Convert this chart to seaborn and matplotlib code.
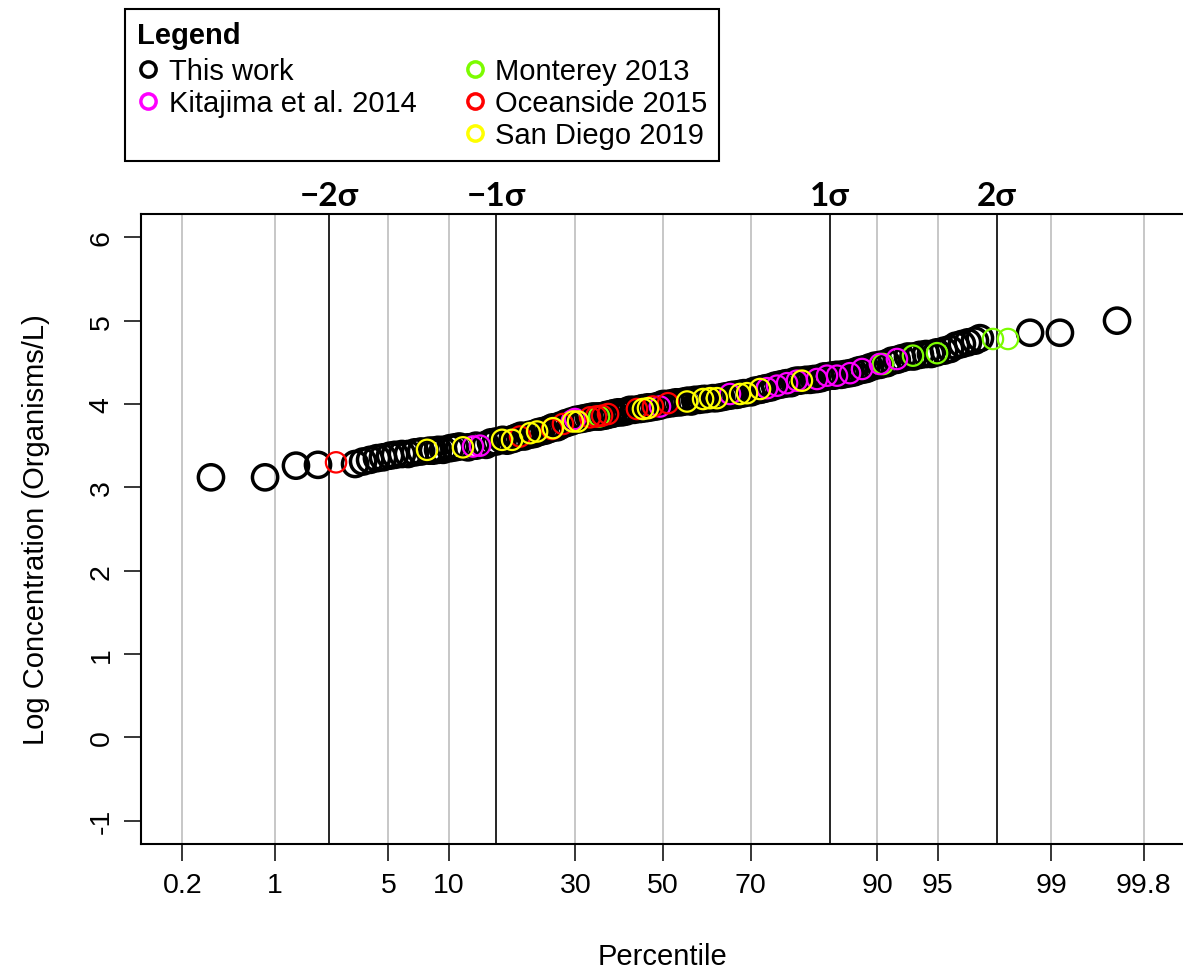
import numpy as np
import pandas as pd
import matplotlib
matplotlib.use("Agg")
import matplotlib.pyplot as plt
from matplotlib.lines import Line2D
from matplotlib.transforms import blended_transform_factory
import seaborn as sns
from statistics import NormalDist

# ---------------- data (normal score = theoretical quantile, log10 concentration) -------------
this_work_z = [-2.707, -2.383, -2.198, -2.066, -1.844, -1.796, -1.754, -1.713, -1.677, -1.635,
               -1.605, -1.563, -1.527, -1.485, -1.449, -1.400, -1.377, -1.347, -1.317, -1.275,
               -1.246, -1.220, -1.168, -1.120, -1.060, -1.030, -1.000, -0.960, -0.934, -0.900,
               -0.874, -0.850, -0.832, -0.800, -0.772, -0.750, -0.731, -0.707, -0.680, -0.660,
               -0.635, -0.617, -0.581, -0.550, -0.520, -0.491, -0.467, -0.443, -0.420, -0.395,
               -0.377, -0.350, -0.335, -0.310, -0.293, -0.269, -0.246, -0.222, -0.198, -0.174,
               -0.138, -0.120, -0.102, -0.090, -0.072, -0.042, -0.020, 0.000, 0.020, 0.054,
               0.078, 0.102, 0.126, 0.150, 0.168, 0.192, 0.216, 0.240, 0.257, 0.299,
               0.320, 0.347, 0.371, 0.400, 0.419, 0.440, 0.460, 0.485, 0.527, 0.551,
               0.580, 0.599, 0.620, 0.647, 0.671, 0.695, 0.719, 0.740, 0.766, 0.784,
               0.800, 0.820, 0.856, 0.880, 0.904, 0.920, 0.946, 0.964, 0.980, 1.006,
               1.024, 1.040, 1.066, 1.090, 1.120, 1.144, 1.168, 1.190, 1.216, 1.240,
               1.269, 1.300, 1.341, 1.371, 1.400, 1.431, 1.467, 1.500, 1.539, 1.575,
               1.605, 1.640, 1.683, 1.719, 1.754, 1.790, 1.826, 1.868, 1.898, 2.198,
               2.377, 2.719]
this_work_y = [3.12, 3.12, 3.26, 3.27, 3.28, 3.31, 3.33, 3.35, 3.36, 3.38,
               3.39, 3.40, 3.40, 3.42, 3.43, 3.44, 3.44, 3.45, 3.45, 3.47,
               3.48, 3.49, 3.48, 3.50, 3.51, 3.54, 3.55, 3.57, 3.56, 3.58,
               3.60, 3.62, 3.61, 3.63, 3.64, 3.66, 3.67, 3.68, 3.70, 3.72,
               3.72, 3.74, 3.77, 3.79, 3.81, 3.82, 3.83, 3.84, 3.85, 3.85,
               3.85, 3.86, 3.87, 3.88, 3.89, 3.90, 3.90, 3.91, 3.93, 3.93,
               3.94, 3.95, 3.95, 3.96, 3.96, 3.97, 3.98, 4.00, 4.00, 4.01,
               4.02, 4.02, 4.03, 4.04, 4.03, 4.05, 4.05, 4.06, 4.06, 4.07,
               4.07, 4.08, 4.09, 4.10, 4.11, 4.11, 4.12, 4.13, 4.14, 4.16,
               4.17, 4.18, 4.19, 4.20, 4.22, 4.23, 4.24, 4.25, 4.25, 4.27,
               4.28, 4.28, 4.29, 4.29, 4.30, 4.30, 4.31, 4.33, 4.33, 4.34,
               4.34, 4.35, 4.35, 4.36, 4.37, 4.38, 4.40, 4.41, 4.42, 4.44,
               4.46, 4.47, 4.49, 4.52, 4.53, 4.55, 4.57, 4.57, 4.59, 4.60,
               4.60, 4.62, 4.64, 4.66, 4.70, 4.72, 4.74, 4.76, 4.79, 4.855,
               4.855, 5.00]

kitajima_z = [-1.138, -1.096, -0.545, -0.527, -0.018, 0.401, 0.623, 0.683, 0.743, 0.802,
              0.922, 0.982, 1.042, 1.120, 1.192, 1.299, 1.401]
kitajima_y = [3.49, 3.50, 3.80, 3.82, 3.97, 4.12, 4.19, 4.22, 4.25, 4.28,
              4.30, 4.34, 4.34, 4.37, 4.42, 4.48, 4.54]

monterey_z = [-0.383, 1.317, 1.497, 1.641, 1.976, 2.066]
monterey_y = [3.85, 4.48, 4.58, 4.61, 4.78, 4.78]

oceanside_z = [-1.958, -0.856, -0.665, -0.599, -0.437, -0.401, -0.365, -0.329, -0.156, -0.060, 0.030]
oceanside_y = [3.30, 3.61, 3.70, 3.76, 3.84, 3.85, 3.86, 3.88, 3.94, 3.97, 4.01]

sandiego_z = [-1.413, -1.198, -0.964, -0.904, -0.796, -0.754, -0.659, -0.539, -0.509, -0.120,
              -0.090, 0.144, 0.240, 0.281, 0.323, 0.461, 0.503, 0.581, 0.832]
sandiego_y = [3.45, 3.48, 3.57, 3.57, 3.65, 3.67, 3.71, 3.79, 3.79, 3.94,
              3.95, 4.03, 4.06, 4.07, 4.07, 4.12, 4.13, 4.18, 4.28]

percentile_ticks = [0.2, 1, 5, 10, 30, 50, 70, 90, 95, 99, 99.8]
percentile_labels = ["0.2", "1", "5", "10", "30", "50", "70", "90", "95", "99", "99.8"]
sigma_levels = [-2, -1, 1, 2]
sigma_labels = ["\u22122\u03c3", "\u22121\u03c3", "1\u03c3", "2\u03c3"]
y_ticks = [-1, 0, 1, 2, 3, 4, 5, 6]

series_colors = {"This work": "black", "Kitajima et al. 2014": "#FF00FF",
                 "Monterey 2013": "#7CFC00", "Oceanside 2015": "#FF0000",
                 "San Diego 2019": "#FFFF00"}

frames = []
for name, zz, yy in [("This work", this_work_z, this_work_y),
                     ("Kitajima et al. 2014", kitajima_z, kitajima_y),
                     ("Monterey 2013", monterey_z, monterey_y),
                     ("Oceanside 2015", oceanside_z, oceanside_y),
                     ("San Diego 2019", sandiego_z, sandiego_y)]:
    frames.append(pd.DataFrame({"z": zz, "logc": yy, "source": name}))
df = pd.concat(frames, ignore_index=True)

# ---------------- style ----------------
sns.set_theme(style="white")
plt.rcParams["font.family"] = ["Liberation Sans", "DejaVu Sans"]
plt.rcParams["axes.edgecolor"] = "black"
plt.rcParams["text.color"] = "black"
plt.rcParams["axes.labelcolor"] = "black"
plt.rcParams["xtick.color"] = "black"
plt.rcParams["ytick.color"] = "black"

W, H = 1183, 979
fig = plt.figure(figsize=(W / 100, H / 100), dpi=100)
fig.patch.set_facecolor("white")
ax = fig.add_axes([141 / W, 1 - 845 / H, 1044 / W, 630 / H])

# reference lines
for p in percentile_ticks:
    ax.axvline(NormalDist().inv_cdf(p / 100), color="#BEBEBE", lw=1.2, zorder=1)
for s in sigma_levels:
    ax.axvline(s, color="black", lw=1.2, zorder=1.5)

# points: black first, coloured ones on top
draw_order = ["This work", "Monterey 2013", "Kitajima et al. 2014", "Oceanside 2015", "San Diego 2019"]
for name in draw_order:
    sub = df[df["source"] == name]
    big = name == "This work"
    sns.scatterplot(data=sub, x="z", y="logc", ax=ax, marker="o",
                    s=330 if big else 215, facecolor="none",
                    edgecolor=series_colors[name], linewidth=2.5 if big else 1.6,
                    legend=False, zorder=3)

ax.set_xlim(-3.126, 3.126)
ax.set_ylim(-1.28, 6.28)
ax.set_xticks([NormalDist().inv_cdf(p / 100) for p in percentile_ticks])
ax.set_xticklabels(percentile_labels)
ax.set_yticks(y_ticks)
ax.set_yticklabels([str(v) for v in y_ticks], rotation=90, va="center")
ax.tick_params(axis="both", direction="out", length=12, width=1.1, labelsize=20.5,
               bottom=True, left=True, top=False, right=False)
ax.tick_params(axis="x", pad=8)
ax.tick_params(axis="y", pad=7)
for sp in ax.spines.values():
    sp.set_linewidth(1.5)
    sp.set_color("black")

ax.set_xlabel("Percentile", fontsize=21, labelpad=32)
ax.set_ylabel("Log Concentration (Organisms/L)", fontsize=21, labelpad=28)

trans = blended_transform_factory(ax.transData, ax.transAxes)
for s, lab in zip(sigma_levels, sigma_labels):
    ax.text(s, 1.006, lab, transform=trans, ha="center", va="bottom",
            fontsize=24, fontweight="bold", family=["Lato", "DejaVu Sans"])

# legend
handles, labels = [], []
for name in ["This work", "Kitajima et al. 2014"]:
    handles.append(Line2D([], [], ls="none", marker="o", mfc="none",
                          mec=series_colors[name], mew=2.5, ms=11))
    labels.append(name)
handles.append(Line2D([], [], ls="none"))
labels.append("")
for name in ["Monterey 2013", "Oceanside 2015", "San Diego 2019"]:
    handles.append(Line2D([], [], ls="none", marker="o", mfc="none",
                          mec=series_colors[name], mew=2.5, ms=11))
    labels.append(name)

leg = fig.legend(handles, labels, ncol=2, loc="upper left",
                 bbox_to_anchor=(125 / W, 1 - 10 / H), frameon=True, fancybox=False,
                 edgecolor="black", framealpha=1, title="Legend",
                 title_fontproperties={"weight": "bold", "size": 21}, alignment="left",
                 fontsize=21, handlelength=0.8, handletextpad=0.3, columnspacing=1.6,
                 labelspacing=0.14, borderpad=0.4, borderaxespad=0)
leg.get_frame().set_linewidth(1.5)
leg._legend_box.sep = 6

fig.savefig("out.png", dpi=100, facecolor="white")
